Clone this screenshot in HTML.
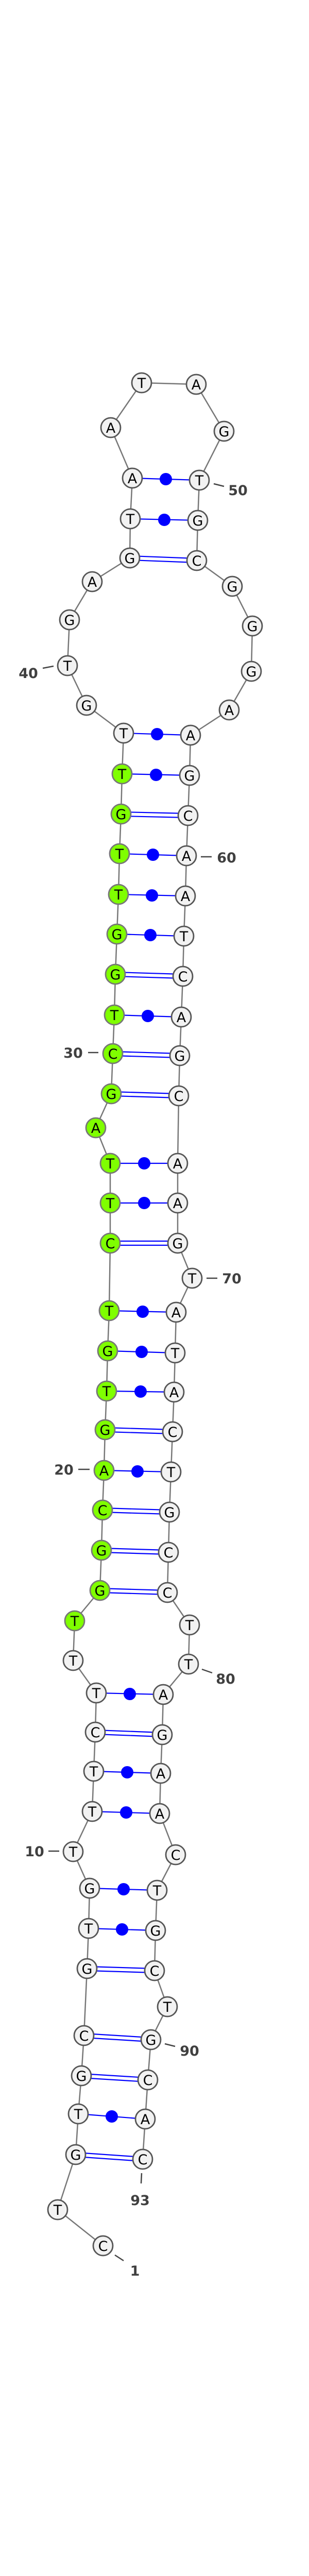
<!DOCTYPE html>
<html><head><meta charset="utf-8"><style>html,body{margin:0;padding:0;background:#fff;width:600px;height:5117px;overflow:hidden}svg{display:block}</style></head><body>
<svg width="600" height="5117" viewBox="0 0 600 5117" xmlns="http://www.w3.org/2000/svg">
<g stroke="#777" stroke-width="2.5" fill="none">
<polyline points="200,4359 112,4289 147,4182 152,4103 158,4029 163,3951 169,3821 172,3743 174,3665 142,3594 179,3516 182,3438 185,3362 187,3286 142,3223 145,3146 194,3087 197,3009 199,2931 202,2854 204,2775 207,2700 209,2622 212,2544 214,2413 214,2335 214,2258 186,2189 216,2123 219,2045 222,1970 224,1891 227,1813 230,1736 232,1657 235,1580 237,1502 240,1423 168,1369 131,1292 135,1203 179,1129 252,1083 253,1007 257,928 215,830 275,743 381,746 435,837 387,932 384,1010 382,1088 451,1138 490,1215 488,1303 445,1378 370,1427 368,1505 365,1583 362,1661 360,1739 357,1817 355,1895 352,1974 349,2049 347,2127 345,2258 345,2335 345,2413 373,2481 342,2547 340,2626 338,2702 335,2779 332,2857 329,2935 327,3013 325,3091 368,3154 366,3230 317,3289 315,3367 312,3442 310,3520 341,3600 305,3669 302,3747 300,3825 325,3895 293,3959 287,4037 282,4113 277,4191"/>
</g>
<g stroke="#00f" stroke-width="2.2" fill="none">
<path d="M147,4178 L277,4187 M147,4186 L277,4195"/>
<path d="M158,4025 L287,4033 M158,4033 L287,4041"/>
<path d="M163,3947 L293,3955 M163,3955 L293,3963"/>
<path d="M169,3817 L300,3821 M169,3825 L300,3829"/>
<path d="M185,3358 L315,3363 M185,3366 L315,3371"/>
<path d="M194,3083 L325,3087 M194,3091 L325,3095"/>
<path d="M197,3005 L327,3009 M197,3013 L327,3017"/>
<path d="M199,2927 L329,2931 M199,2935 L329,2939"/>
<path d="M204,2771 L335,2775 M204,2779 L335,2783"/>
<path d="M214,2409 L345,2409 M214,2417 L345,2417"/>
<path d="M216,2119 L347,2123 M216,2127 L347,2131"/>
<path d="M219,2041 L349,2045 M219,2049 L349,2053"/>
<path d="M224,1887 L355,1891 M224,1895 L355,1899"/>
<path d="M235,1576 L365,1579 M235,1584 L365,1587"/>
<path d="M252,1079 L382,1084 M252,1087 L382,1092"/>
<path d="M152,4103 L282,4113 M172,3743 L302,3747 M174,3665 L305,3669 M179,3516 L310,3520 M182,3438 L312,3442 M187,3286 L317,3289 M202,2854 L332,2857 M207,2700 L338,2702 M209,2622 L340,2626 M212,2544 L342,2547 M214,2335 L345,2335 M214,2258 L345,2258 M222,1970 L352,1974 M227,1813 L357,1817 M230,1736 L360,1739 M232,1657 L362,1661 M237,1502 L368,1505 M240,1423 L370,1427 M253,1007 L384,1010 M257,928 L387,932"/>
</g>
<g fill="#00f">
<circle cx="217" cy="4108" r="12"/><circle cx="237" cy="3745" r="12"/><circle cx="240" cy="3667" r="12"/><circle cx="245" cy="3518" r="12"/><circle cx="247" cy="3440" r="12"/><circle cx="252" cy="3288" r="12"/><circle cx="267" cy="2856" r="12"/><circle cx="273" cy="2701" r="12"/><circle cx="275" cy="2624" r="12"/><circle cx="277" cy="2546" r="12"/><circle cx="280" cy="2335" r="12"/><circle cx="280" cy="2258" r="12"/><circle cx="287" cy="1972" r="12"/><circle cx="292" cy="1815" r="12"/><circle cx="295" cy="1738" r="12"/><circle cx="297" cy="1659" r="12"/><circle cx="303" cy="1504" r="12"/><circle cx="305" cy="1425" r="12"/><circle cx="319" cy="1009" r="12"/><circle cx="322" cy="930" r="12"/>
</g>
<g stroke="#555" stroke-width="2.8" fill="#f2f2f2">
<circle cx="200" cy="4359" r="19"/><circle cx="112" cy="4289" r="19"/><circle cx="147" cy="4182" r="19"/><circle cx="152" cy="4103" r="19"/><circle cx="158" cy="4029" r="19"/><circle cx="163" cy="3951" r="19"/><circle cx="169" cy="3821" r="19"/><circle cx="172" cy="3743" r="19"/><circle cx="174" cy="3665" r="19"/><circle cx="142" cy="3594" r="19"/><circle cx="179" cy="3516" r="19"/><circle cx="182" cy="3438" r="19"/><circle cx="185" cy="3362" r="19"/><circle cx="187" cy="3286" r="19"/><circle cx="142" cy="3223" r="19"/>
<circle cx="240" cy="1423" r="19"/><circle cx="168" cy="1369" r="19"/><circle cx="131" cy="1292" r="19"/><circle cx="135" cy="1203" r="19"/><circle cx="179" cy="1129" r="19"/><circle cx="252" cy="1083" r="19"/><circle cx="253" cy="1007" r="19"/><circle cx="257" cy="928" r="19"/><circle cx="215" cy="830" r="19"/><circle cx="275" cy="743" r="19"/><circle cx="381" cy="746" r="19"/><circle cx="435" cy="837" r="19"/><circle cx="387" cy="932" r="19"/><circle cx="384" cy="1010" r="19"/><circle cx="382" cy="1088" r="19"/><circle cx="451" cy="1138" r="19"/><circle cx="490" cy="1215" r="19"/><circle cx="488" cy="1303" r="19"/><circle cx="445" cy="1378" r="19"/><circle cx="370" cy="1427" r="19"/><circle cx="368" cy="1505" r="19"/><circle cx="365" cy="1583" r="19"/><circle cx="362" cy="1661" r="19"/><circle cx="360" cy="1739" r="19"/><circle cx="357" cy="1817" r="19"/><circle cx="355" cy="1895" r="19"/><circle cx="352" cy="1974" r="19"/><circle cx="349" cy="2049" r="19"/><circle cx="347" cy="2127" r="19"/><circle cx="345" cy="2258" r="19"/><circle cx="345" cy="2335" r="19"/><circle cx="345" cy="2413" r="19"/><circle cx="373" cy="2481" r="19"/><circle cx="342" cy="2547" r="19"/><circle cx="340" cy="2626" r="19"/><circle cx="338" cy="2702" r="19"/><circle cx="335" cy="2779" r="19"/><circle cx="332" cy="2857" r="19"/><circle cx="329" cy="2935" r="19"/><circle cx="327" cy="3013" r="19"/><circle cx="325" cy="3091" r="19"/><circle cx="368" cy="3154" r="19"/><circle cx="366" cy="3230" r="19"/><circle cx="317" cy="3289" r="19"/><circle cx="315" cy="3367" r="19"/><circle cx="312" cy="3442" r="19"/><circle cx="310" cy="3520" r="19"/><circle cx="341" cy="3600" r="19"/><circle cx="305" cy="3669" r="19"/><circle cx="302" cy="3747" r="19"/><circle cx="300" cy="3825" r="19"/><circle cx="325" cy="3895" r="19"/><circle cx="293" cy="3959" r="19"/><circle cx="287" cy="4037" r="19"/><circle cx="282" cy="4113" r="19"/><circle cx="277" cy="4191" r="19"/>
</g>
<g stroke="#777" stroke-width="2.8" fill="#7fff00">
<circle cx="145" cy="3146" r="19"/><circle cx="194" cy="3087" r="19"/><circle cx="197" cy="3009" r="19"/><circle cx="199" cy="2931" r="19"/><circle cx="202" cy="2854" r="19"/><circle cx="204" cy="2775" r="19"/><circle cx="207" cy="2700" r="19"/><circle cx="209" cy="2622" r="19"/><circle cx="212" cy="2544" r="19"/><circle cx="214" cy="2413" r="19"/><circle cx="214" cy="2335" r="19"/><circle cx="214" cy="2258" r="19"/><circle cx="186" cy="2189" r="19"/><circle cx="216" cy="2123" r="19"/><circle cx="219" cy="2045" r="19"/><circle cx="222" cy="1970" r="19"/><circle cx="224" cy="1891" r="19"/><circle cx="227" cy="1813" r="19"/><circle cx="230" cy="1736" r="19"/><circle cx="232" cy="1657" r="19"/><circle cx="235" cy="1580" r="19"/><circle cx="237" cy="1502" r="19"/>
</g>
<g font-family="DejaVu Sans, Liberation Sans, sans-serif" font-size="27" text-anchor="middle" fill="#000">
<text x="200" y="4369">C</text><text x="112" y="4299">T</text><text x="147" y="4192">G</text><text x="152" y="4113">T</text><text x="158" y="4039">G</text><text x="163" y="3961">C</text><text x="169" y="3831">G</text><text x="172" y="3753">T</text><text x="174" y="3675">G</text><text x="142" y="3604">T</text><text x="179" y="3526">T</text><text x="182" y="3448">T</text><text x="185" y="3372">C</text><text x="187" y="3296">T</text><text x="142" y="3233">T</text><text x="145" y="3156">T</text><text x="194" y="3097">G</text><text x="197" y="3019">G</text><text x="199" y="2941">C</text><text x="202" y="2864">A</text><text x="204" y="2785">G</text><text x="207" y="2710">T</text><text x="209" y="2632">G</text><text x="212" y="2554">T</text><text x="214" y="2423">C</text><text x="214" y="2345">T</text><text x="214" y="2268">T</text><text x="186" y="2199">A</text><text x="216" y="2133">G</text><text x="219" y="2055">C</text><text x="222" y="1980">T</text><text x="224" y="1901">G</text><text x="227" y="1823">G</text><text x="230" y="1746">T</text><text x="232" y="1667">T</text><text x="235" y="1590">G</text><text x="237" y="1512">T</text><text x="240" y="1433">T</text><text x="168" y="1379">G</text><text x="131" y="1302">T</text><text x="135" y="1213">G</text><text x="179" y="1139">A</text><text x="252" y="1093">G</text><text x="253" y="1017">T</text><text x="257" y="938">A</text><text x="215" y="840">A</text><text x="275" y="753">T</text><text x="381" y="756">A</text><text x="435" y="847">G</text><text x="387" y="942">T</text><text x="384" y="1020">G</text><text x="382" y="1098">C</text><text x="451" y="1148">G</text><text x="490" y="1225">G</text><text x="488" y="1313">G</text><text x="445" y="1388">A</text><text x="370" y="1437">A</text><text x="368" y="1515">G</text><text x="365" y="1593">C</text><text x="362" y="1671">A</text><text x="360" y="1749">A</text><text x="357" y="1827">T</text><text x="355" y="1905">C</text><text x="352" y="1984">A</text><text x="349" y="2059">G</text><text x="347" y="2137">C</text><text x="345" y="2268">A</text><text x="345" y="2345">A</text><text x="345" y="2423">G</text><text x="373" y="2491">T</text><text x="342" y="2557">A</text><text x="340" y="2636">T</text><text x="338" y="2712">A</text><text x="335" y="2789">C</text><text x="332" y="2867">T</text><text x="329" y="2945">G</text><text x="327" y="3023">C</text><text x="325" y="3101">C</text><text x="368" y="3164">T</text><text x="366" y="3240">T</text><text x="317" y="3299">A</text><text x="315" y="3377">G</text><text x="312" y="3452">A</text><text x="310" y="3530">A</text><text x="341" y="3610">C</text><text x="305" y="3679">T</text><text x="302" y="3757">G</text><text x="300" y="3835">C</text><text x="325" y="3905">T</text><text x="293" y="3969">G</text><text x="287" y="4047">C</text><text x="282" y="4123">A</text><text x="277" y="4201">C</text>
</g>
<g stroke="#444" stroke-width="2.5">
<line x1="415" y1="939" x2="435" y2="944"/><line x1="83" y1="1297" x2="104" y2="1293"/><line x1="390" y1="1663" x2="411" y2="1663"/><line x1="171" y1="2043" x2="191" y2="2043"/><line x1="401" y1="2481" x2="422" y2="2481"/><line x1="152" y1="2852" x2="174" y2="2852"/><line x1="392" y1="3240" x2="412" y2="3247"/><line x1="94" y1="3593" x2="115" y2="3593"/><line x1="320" y1="3967" x2="340" y2="3972"/><line x1="275" y1="4218" x2="274" y2="4238"/><line x1="223" y1="4377" x2="240" y2="4388"/>
</g>
<g font-family="DejaVu Sans, Liberation Sans, sans-serif" font-size="27" font-weight="bold" text-anchor="middle" fill="#404040">
<text x="462" y="961">50</text><text x="55" y="1316">40</text><text x="440" y="1674">60</text><text x="142" y="2053">30</text><text x="450" y="2491">70</text><text x="124" y="2862">20</text><text x="438" y="3268">80</text><text x="67" y="3603">10</text><text x="368" y="3990">90</text><text x="272" y="4280">93</text><text x="262" y="4417">1</text>
</g>
<text x="300" y="5112" font-family="DejaVu Sans, Liberation Sans, sans-serif" font-size="11" font-weight="bold" text-anchor="middle" fill="#000">eca-mir-34a_annot [-41.0]</text>
</svg>
</body></html>
